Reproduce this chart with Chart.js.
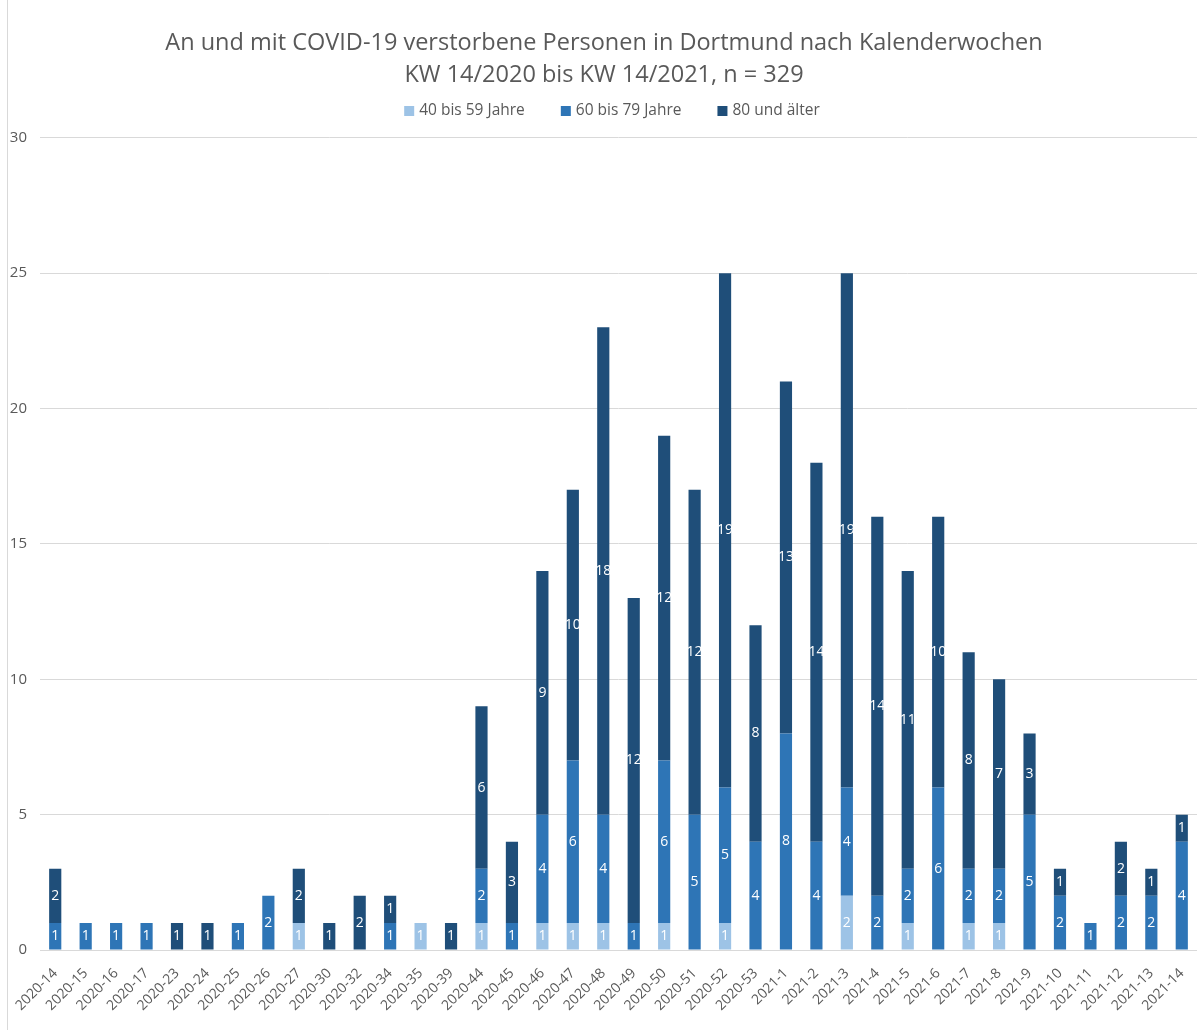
<!DOCTYPE html>
<html>
<head>
<meta charset="utf-8">
<script src="https://cdn.jsdelivr.net/npm/chart.js@4/dist/chart.umd.min.js"></script>
<style>
  body { margin: 0; background: #fff; }
  #wrap { position: relative; width: 1197px; height: 1030px; }
  #frame { position: absolute; left: 7px; top: 0; width: 0; height: 1030px; border-left: 1px solid #d9d9d9; }
  canvas { position: absolute; left: 0; top: 0; }
</style>
</head>
<body>
<div id="wrap">
  <div id="frame"></div>
  <canvas id="chart" width="1197" height="1030"></canvas>
</div>
<script>
const weeks = ["2020-14", "2020-15", "2020-16", "2020-17", "2020-23", "2020-24", "2020-25", "2020-26",
  "2020-27", "2020-30", "2020-32", "2020-34", "2020-35", "2020-39", "2020-44", "2020-45", "2020-46",
  "2020-47", "2020-48", "2020-49", "2020-50", "2020-51", "2020-52", "2020-53", "2021-1", "2021-2",
  "2021-3", "2021-4", "2021-5", "2021-6", "2021-7", "2021-8", "2021-9", "2021-10", "2021-11",
  "2021-12", "2021-13", "2021-14"]

const age40to59 = [0, 0, 0, 0, 0, 0, 0, 0, 1, 0, 0, 0, 1, 0, 1, 0, 1, 1, 1, 0, 1, 0, 1, 0, 0, 0,
  2, 0, 1, 0, 1, 1, 0, 0, 0, 0, 0, 0]
const age60to79 = [1, 1, 1, 1, 0, 0, 1, 2, 0, 0, 0, 1, 0, 0, 2, 1, 4, 6, 4, 1, 6, 5, 5, 4, 8, 4,
  4, 2, 2, 6, 2, 2, 5, 2, 1, 2, 2, 4]
const age80plus = [2, 0, 0, 0, 1, 1, 0, 0, 2, 1, 2, 1, 0, 1, 6, 3, 9, 10, 18, 12, 12, 12, 19, 8, 13, 14,
  19, 14, 11, 10, 8, 7, 3, 1, 0, 2, 1, 1]

const seriesNames = ["40 bis 59 Jahre", "60 bis 79 Jahre", "80 und älter"]
const yTicks = [0, 5, 10, 15, 20, 25, 30]

const fontName = "'Open Sans', 'Liberation Sans', sans-serif"
const grey = "#595959"

// Zahlen in die Balken schreiben
const segmentLabels = {
  id: "segmentLabels",
  afterDatasetsDraw(chart) {
    const ctx = chart.ctx
    ctx.save()
    ctx.font = "14px " + fontName
    ctx.fillStyle = "#ffffff"
    ctx.textAlign = "center"
    ctx.textBaseline = "middle"
    chart.data.datasets.forEach((ds, i) => {
      const meta = chart.getDatasetMeta(i)
      meta.data.forEach((bar, j) => {
        const v = ds.data[j]
        if (!v) return
        ctx.fillText(String(v), bar.x, (bar.y + bar.base) / 2)
      })
    })
    ctx.restore()
  }
}

// Legende selbst zeichnen (Abstaende wie im Original)
const topLegend = {
  id: "topLegend",
  afterDraw(chart) {
    const ctx = chart.ctx
    const y = 111
    const box = 10
    const gap = 5
    const spacing = 36
    ctx.save()
    ctx.font = "15.5px " + fontName
    ctx.textBaseline = "middle"
    const items = chart.data.datasets.map((ds) => ({
      text: ds.label,
      color: ds.backgroundColor,
      w: box + gap + ctx.measureText(ds.label).width
    }))
    const total = items.reduce((s, it) => s + it.w, 0) + spacing * (items.length - 1)
    let x = 612 - total / 2
    items.forEach((it) => {
      ctx.fillStyle = it.color
      ctx.fillRect(x, y - box / 2, box, box)
      ctx.fillStyle = grey
      ctx.fillText(it.text, x + box + gap, y)
      x += it.w + spacing
    })
    ctx.restore()
  }
}

new Chart(document.getElementById("chart"), {
  type: "bar",
  data: {
    labels: weeks,
    datasets: [
      { label: seriesNames[0], data: age40to59, backgroundColor: "#9dc3e6" },
      { label: seriesNames[1], data: age60to79, backgroundColor: "#2e75b6" },
      { label: seriesNames[2], data: age80plus, backgroundColor: "#1f4e79" }
    ]
  },
  options: {
    responsive: false,
    animation: false,
    categoryPercentage: 1,
    barPercentage: 0.4,
    layout: { padding: { top: 27, left: 8, right: -3, bottom: 6 } },
    plugins: {
      title: {
        display: true,
        text: ["An und mit COVID-19 verstorbene Personen in Dortmund nach Kalenderwochen", "KW 14/2020 bis KW 14/2021, n = 329"],
        color: grey,
        font: { family: fontName, size: 23.5, weight: "normal", lineHeight: 1.38 },
        padding: { top: 0, bottom: 46 }
      },
      legend: { display: false },
      tooltip: { enabled: false }
    },
    scales: {
      x: {
        stacked: true,
        grid: { display: false },
        border: { display: true, color: "#d9d9d9" },
        afterFit(scale) {
          scale.height = 74
          scale.paddingLeft = 0
          scale.paddingRight = 0
        },
        ticks: {
          color: grey,
          font: { family: fontName, size: 14 },
          padding: 7,
          minRotation: 45,
          maxRotation: 45,
          autoSkip: false
        }
      },
      y: {
        stacked: true,
        min: 0,
        max: 30,
        afterBuildTicks(scale) {
          scale.ticks = yTicks.map((v) => ({ value: v }))
        },
        afterFit(scale) {
          scale.width = 32
        },
        grid: { color: "#d9d9d9", drawTicks: false },
        border: { display: false },
        ticks: {
          color: grey,
          font: { family: fontName, size: 15 },
          padding: 13
        }
      }
    }
  },
  plugins: [segmentLabels, topLegend]
})
</script>
</body>
</html>
